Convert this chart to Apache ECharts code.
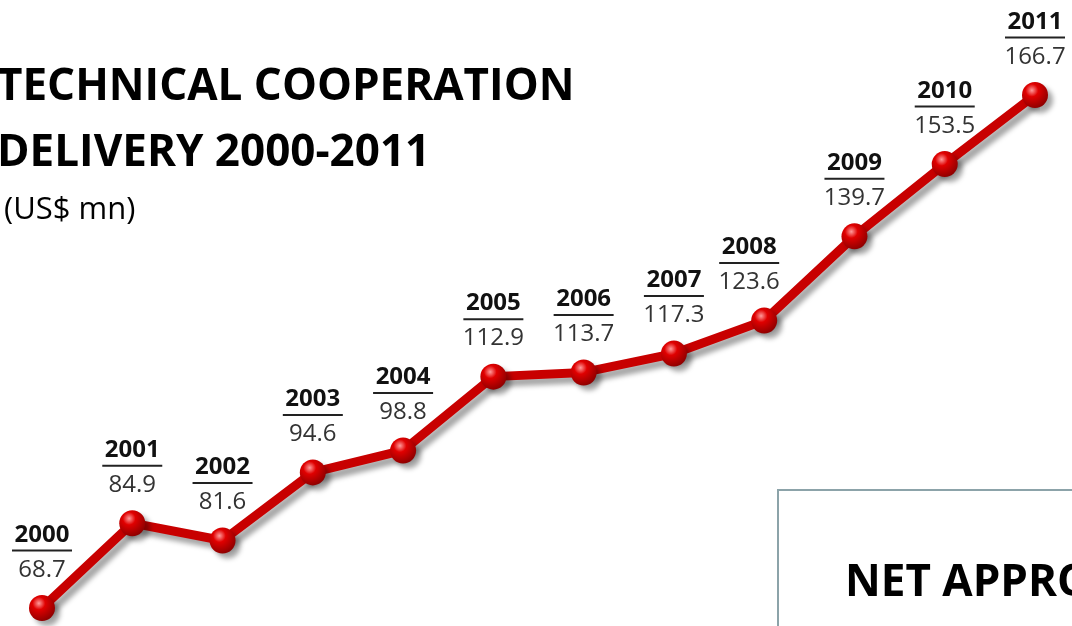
<!DOCTYPE html>
<html>
<head>
<meta charset="utf-8">
<script src="https://cdn.jsdelivr.net/npm/echarts@6/dist/echarts.min.js"></script>
<style>html,body{margin:0;padding:0;background:#fff;}#c{width:1072px;height:626px;}</style>
</head>
<body>
<div id="c"></div>
<script>
var years = ['2000','2001','2002','2003','2004','2005','2006','2007','2008','2009','2010','2011'];
var delivery = [68.7, 84.9, 81.6, 94.6, 98.8, 112.9, 113.7, 117.3, 123.6, 139.7, 153.5, 166.7];
var titleLines = ['TECHNICAL COOPERATION', 'DELIVERY 2000-2011'];
var unitText = '(US$ mn)';
var boxText = 'NET APPROVALS';

var chart = echarts.init(document.getElementById('c'));
var data = delivery.map(function (v, i) {
  var d = { value: v };
  if (i === 8) d.label = { offset: [-15, 0] };
  return d;
});
chart.setOption({
  animation: false,
  backgroundColor: '#ffffff',
  grid: { left: 42, right: 37, top: 95, bottom: 18 },
  xAxis: { type: 'category', data: years, boundaryGap: false, show: false },
  yAxis: { type: 'value', min: 68.7, max: 166.7, show: false },
  graphic: [
    { type: 'text', left: -3, top: 65, style: { text: titleLines[0], font: 'bold 44px "Open Sans"', fill: '#000' } },
    { type: 'text', left: -3, top: 131, style: { text: titleLines[1], font: 'bold 44px "Open Sans"', fill: '#000' } },
    { type: 'text', left: 4, top: 195, style: { text: unitText, font: '31px "Open Sans"', fill: '#000' } },
    { type: 'rect', shape: { x: 778, y: 490, width: 400, height: 200 }, style: { fill: '#fff', stroke: '#8ca3a9', lineWidth: 2 }, z: 0 },
    { type: 'text', left: 845, top: 561, style: { text: boxText, font: 'bold 44px "Open Sans"', fill: '#000' }, z: 1 }
  ],
  series: [{
    type: 'line',
    data: data,
    clip: false,
    z: 5,
    symbol: 'circle',
    symbolSize: 26,
    lineStyle: { color: '#c80000', width: 9, shadowColor: 'rgba(0,0,0,0.35)', shadowBlur: 5, shadowOffsetX: 5, shadowOffsetY: 6 },
    itemStyle: {
      color: { type: 'radial', x: 0.38, y: 0.32, r: 0.7, colorStops: [
        { offset: 0, color: '#ff9a9a' }, { offset: 0.35, color: '#e00000' }, { offset: 1, color: '#8e0000' }] },
      shadowColor: 'rgba(0,0,0,0.35)', shadowBlur: 5, shadowOffsetX: 5, shadowOffsetY: 5
    },
    label: {
      show: true,
      position: 'top',
      distance: 7,
      formatter: function (p) { return '{y|' + years[p.dataIndex] + '}\n{u|}\n{v|' + p.value.toFixed(1) + '}'; },
      rich: {
        y: { fontFamily: 'Open Sans', fontWeight: 'bold', fontSize: 24, color: '#111', lineHeight: 28, align: 'center' },
        u: { width: 60, height: 2, lineHeight: 3, backgroundColor: '#222', align: 'center' },
        v: { fontFamily: 'Open Sans', fontSize: 24, color: '#333', lineHeight: 36, align: 'center' }
      }
    }
  }]
});
</script>
</body>
</html>
